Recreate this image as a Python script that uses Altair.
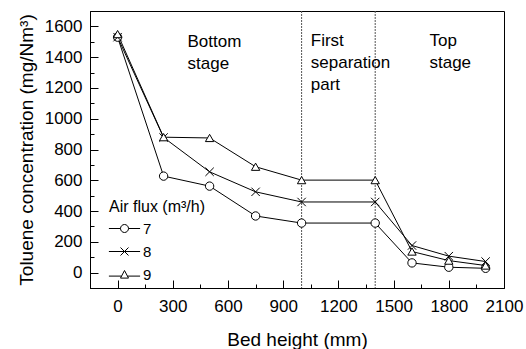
import altair as alt
import pandas as pd

bed_height = [0, 250, 500, 750, 1000, 1400, 1600, 1800, 2000]
flux_7 = [1530, 627, 562, 368, 322, 322, 63, 35, 28]
flux_8 = [1530, 878, 655, 525, 459, 459, 176, 107, 72]
flux_9 = [1550, 880, 875, 688, 601, 601, 137, 78, 46]
series_labels = ["7", "8", "9"]
separators = [1000, 1400]
x_major = [0, 300, 600, 900, 1200, 1500, 1800, 2100]
x_minor = [-150, 150, 450, 750, 1050, 1350, 1650, 1950]
y_major = [0, 200, 400, 600, 800, 1000, 1200, 1400, 1600]
y_minor = [-100, 100, 300, 500, 700, 900, 1100, 1300, 1500, 1700]
notes_text = [["Bottom", "stage"], ["First", "separation", "part"], ["Top", "stage"]]
notes_x = [380, 1050, 1695]
notes_y = [1464, 1475, 1475]

rows = []
for lab, vals in zip(series_labels, [flux_7, flux_8, flux_9]):
    for h, v in zip(bed_height, vals):
        rows.append({"h": h, "c": v, "series": lab})
df = pd.DataFrame(rows)
sep_df = pd.DataFrame({"h": separators})

FONT = "Liberation Sans"
xs = alt.Scale(domain=[-150, 2100], nice=False, zero=False)
ys = alt.Scale(domain=[-100, 1700], nice=False, zero=False)

XPATH = "M-1,-1L1,1M-1,1L1,-1"
LEG_CIRC = "M-3.9,0L-1,0M1,0L3.9,0M1,0A1,1,0,1,1,-1,0A1,1,0,1,1,1,0"
LEG_X = "M-3.9,0L3.9,0M-1,-1L1,1M-1,1L1,-1"
LEG_TRI = "M-3.9,0.4L-0.75,0.4M0.75,0.4L3.9,0.4M0,-1L1,0.9L-1,0.9Z"

main_x = alt.Axis(values=x_major, format="d", tickSize={"expr": "-8"}, labelPadding=18,
                  labelOverlap=False, labelFlush=False,
                  title="Bed height (mm)", titlePadding=16, grid=False)
main_y = alt.Axis(values=y_major, format="d", tickSize={"expr": "-8"}, labelPadding=16,
                  labelOverlap=False, labelFlush=False,
                  title="Toluene concentration (mg/Nm³)", titlePadding=8, grid=False)

lines = alt.Chart(df).mark_line(color="black", strokeWidth=1).encode(
    x=alt.X("h:Q", scale=xs, axis=main_x),
    y=alt.Y("c:Q", scale=ys, axis=main_y),
    detail="series:N",
)

minor = alt.Chart(df).mark_point(opacity=0).encode(
    x=alt.X("h:Q", scale=xs, axis=alt.Axis(values=x_minor, labels=False, domain=False,
                                           tickSize={"expr": "-4"}, title=None, orient="bottom", grid=False)),
    y=alt.Y("c:Q", scale=ys, axis=alt.Axis(values=y_minor, labels=False, domain=False,
                                           tickSize={"expr": "-4"}, title=None, orient="left", grid=False)),
)

points = alt.Chart(df).mark_point(filled=True, fill="white", stroke="black", strokeWidth=1,
                                  size=70, opacity=1).encode(
    x=alt.X("h:Q", scale=xs, axis=None),
    y=alt.Y("c:Q", scale=ys, axis=None),
    shape=alt.Shape("series:N", scale=alt.Scale(domain=series_labels,
                                                range=["circle", XPATH, "triangle-up"]), legend=None),
)

legend_layer = alt.Chart(df).mark_point(opacity=0).encode(
    x=alt.X("h:Q", scale=xs, axis=None),
    y=alt.Y("c:Q", scale=ys, axis=None),
    shape=alt.Shape("series:N", scale=alt.Scale(domain=series_labels, range=[LEG_CIRC, LEG_X, LEG_TRI]),
                    legend=alt.Legend(title="Air flux (m³/h)", orient="none", legendX=19, legendY=188,
                                      symbolSize=64, symbolStrokeColor="black", symbolFillColor="white",
                                      symbolStrokeWidth=1, symbolOpacity=1, symbolOffset=8,
                                      labelOffset=11, rowPadding=7, titlePadding=6, padding=0,
                                      labelFontSize=15, titleFontSize=16, titleFontWeight="normal",
                                      labelFont=FONT, titleFont=FONT, labelColor="black", titleColor="black")),
)

seps = alt.Chart(sep_df).mark_rule(color="#555555", strokeWidth=1, strokeDash=[2, 1]).encode(
    x=alt.X("h:Q", scale=xs, axis=None),
)

texts = []
for t, tx, ty in zip(notes_text, notes_x, notes_y):
    tdf = pd.DataFrame({"x": [tx], "y": [ty]})
    texts.append(alt.Chart(tdf).mark_text(align="left", baseline="alphabetic", fontSize=17, font=FONT,
                                          lineHeight=22, color="black").encode(
        x=alt.X("x:Q", scale=xs, axis=None),
        y=alt.Y("y:Q", scale=ys, axis=None),
        text=alt.value(t),
    ))

chart = alt.layer(lines, minor, seps, points, legend_layer, *texts).resolve_axis(
    x="independent", y="independent"
).resolve_scale(shape="independent").properties(
    width=414, height=277,
    autosize=alt.AutoSizeParams(type="none"),
    padding={"left": 90, "top": 11, "right": 22, "bottom": 61},
).configure_view(stroke="black", strokeWidth=1).configure_axis(
    labelFont=FONT, titleFont=FONT, labelFontSize=17, titleFontSize=19, titleFontWeight="normal",
    labelColor="black", titleColor="black", domainColor="black", tickColor="black", tickWidth=1,
)

chart.save("out.html", embed_options={"renderer": "svg", "actions": False})
